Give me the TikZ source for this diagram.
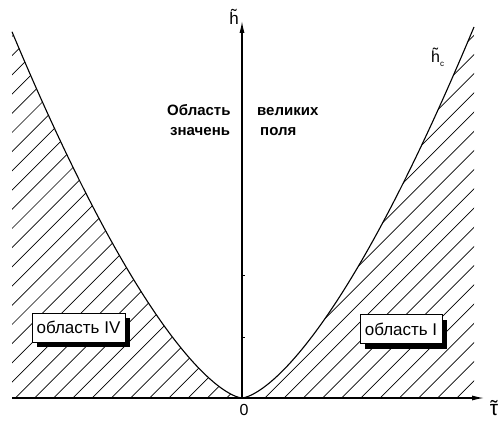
\documentclass[tikz,border=0pt]{standalone}
\usepackage{fontspec}
\setmainfont{Liberation Sans}
\usetikzlibrary{arrows.meta,shadows}
\newcommand\tildeover[2]{\ooalign{#1\cr\hidewidth\raisebox{#2}{˜}\hidewidth\cr}}
\begin{document}
\begin{tikzpicture}[x=1pt,y=-1pt,
  axis/.style={line width=1.2pt,-{Latex[length=12pt,width=5pt]}},
  curve/.style={line width=1.1pt},
  hatchline/.style={line width=0.7pt},
  regionbox/.style={draw,line width=0.9pt,fill=white,inner sep=0pt,minimum height=29pt,
    font=\fontsize{17}{20}\selectfont,
    drop shadow={shadow xshift=5pt,shadow yshift=-5pt,fill=black,opacity=1}},
  boldlbl/.style={font=\fontsize{15}{18}\selectfont\bfseries,inner sep=0pt,anchor=base west},
  axlbl/.style={font=\fontsize{17}{20}\selectfont,inner sep=0pt,anchor=base}
]
\useasboundingbox (0,0) rectangle (500,420);
% hatching, left region
\begin{scope}
\clip (12,398) -- plot[domain=230:0,samples=80] ({242-\x},{398-0.105*\x*sqrt(\x)}) -- cycle;
\foreach \k in {-5,...,40} \draw[hatchline] ({125.3+19.2*\k-398},398) -- ({125.3+19.2*\k},0);
\end{scope}
% hatching, right region
\begin{scope}
\clip (242,398) -- plot[domain=0:232,samples=80] ({242+\x},{398-0.105*\x*sqrt(\x)}) -- (474,398) -- cycle;
\foreach \k in {-5,...,40} \draw[hatchline] ({125.3+19.2*\k-398},398) -- ({125.3+19.2*\k},0);
\end{scope}
% curves
\draw[curve] plot[domain=230:0,samples=80] ({242-\x},{398-0.105*\x*sqrt(\x)});
\draw[curve] plot[domain=0:232,samples=80] ({242+\x},{398-0.105*\x*sqrt(\x)});
% axes
\coordinate (xs) at (12,398);
\coordinate (xe) at (484,398);
\coordinate (ys) at (242,398);
\coordinate (ye) at (242,21);
\draw[axis] (xs) -- (xe);
\draw[axis] (ys) -- (ye);
\draw[line width=0.5pt] (242,275) -- (245,275);
\draw[line width=0.5pt] (242,337) -- (245,337);
% labels
\node[axlbl] (hlbl) at (234,25) {\tildeover{h}{0.22em}};
\node[axlbl,font=\fontsize{21}{24}\selectfont] (taulbl) at (494,415) {\tildeover{τ}{0pt}};
\node[axlbl,font=\fontsize{16}{18}\selectfont] (zero) at (244,415) {0};
\node[inner sep=0pt,anchor=base west] (hclbl) at (431,63) {\fontsize{16}{18}\selectfont\tildeover{h}{0.22em}\raisebox{-4pt}{\fontsize{8}{9}\selectfont c}};
\node[boldlbl] (b1) at (167,115) {Область};
\node[boldlbl] (b2) at (170,135) {значень};
\node[boldlbl] (b3) at (257,115) {великих};
\node[boldlbl] (b4) at (260,135) {поля};
\node[regionbox,minimum width=93pt] (r4) at (78.5,327.5) {область IV};
\node[regionbox,minimum width=82pt] (r1) at (401,329) {область I};
\end{tikzpicture}
\end{document}
